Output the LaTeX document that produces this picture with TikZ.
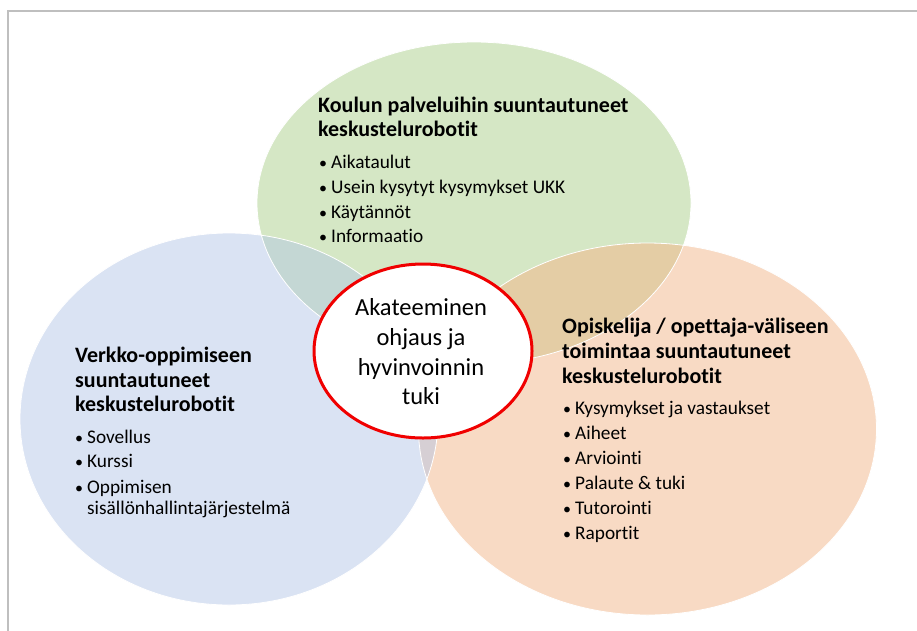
\documentclass[tikz,border=0pt]{standalone}
\usepackage{fontspec}
\usetikzlibrary{shapes.geometric}
\setmainfont{Carlito}[Ligatures=NoCommon]
\definecolor{cgreen}{HTML}{D5E7C5}
\definecolor{cblue}{HTML}{DAE3F3}
\definecolor{corange}{HTML}{F8DAC4}
\definecolor{cbg}{HTML}{C4D7D4}
\definecolor{cog}{HTML}{E4CDA5}
\definecolor{cbo}{HTML}{D6CFD4}
\definecolor{cred}{HTML}{F00000}
\definecolor{cframe}{HTML}{BFBFBF}
\begin{document}
\begin{tikzpicture}[x=1pt,y=-1pt,
  txt/.style={inner sep=0pt, anchor=base west},
  ttl/.style={txt, font=\fontsize{22}{26}\selectfont\bfseries},
  itm/.style={txt, font=\fontsize{19.3}{22}\selectfont},
  bul/.style={inner sep=0pt, anchor=base, font=\fontsize{16}{20}\selectfont},
  ctr/.style={inner sep=0pt, anchor=base, font=\fontsize{24.5}{28}\selectfont},
  venn/.style={draw=white, line width=0.8pt}
]
\path[use as bounding box] (0,0) rectangle (917,630);
\fill[white] (0,0) rectangle (917,630);
\begin{scope}
\clip (0,0) rectangle (917,630);
\draw[cframe, line width=1.5pt] (8,11) rectangle (940,660);
\end{scope}
% base fills
\fill[cgreen] (474,203) ellipse [x radius=217, y radius=161];
\fill[cblue] (229,419) ellipse [x radius=209, y radius=186];
\fill[corange] (647.5,429) ellipse [x radius=229, y radius=186];
% overlaps
\begin{scope}
\clip (474,203) ellipse [x radius=217, y radius=161];
\fill[cbg] (229,419) ellipse [x radius=209, y radius=186];
\fill[cog] (647.5,429) ellipse [x radius=229, y radius=186];
\end{scope}
\begin{scope}
\clip (229,419) ellipse [x radius=209, y radius=186];
\fill[cbo] (647.5,429) ellipse [x radius=229, y radius=186];
\end{scope}
\draw[venn] (474,203) ellipse [x radius=217, y radius=161];
\draw[venn] (229,419) ellipse [x radius=209, y radius=186];
\draw[venn] (647.5,429) ellipse [x radius=229, y radius=186];
% centre
\node[ellipse, draw=cred, fill=white, line width=3pt, inner sep=0pt,
  minimum width=218pt, minimum height=174pt] (c) at (423,351) {};
\node[ctr] (c1) at (421,315) {Akateeminen};
\node[ctr] (c2) at (421,345) {ohjaus ja};
\node[ctr] (c3) at (421,375) {hyvinvoinnin};
\node[ctr] (c4) at (421,404) {tuki};
% green block
\node[ttl] (g1) at (318,112) {Koulun palveluihin suuntautuneet};
\node[ttl] (g2) at (318,136) {keskustelurobotit};
\foreach \y/\t [count=\i] in {168/Aikataulut,193/Usein kysytyt kysymykset UKK,218/Käytännöt,242/Informaatio}{
  \node[bul] (gb\i) at (323,\y) {\textbullet};
  \node[itm] (gi\i) at (331,\y) {\t};
}
% blue block
\node[ttl] (b1) at (75,362) {Verkko-oppimiseen};
\node[ttl] (b2) at (75,387) {suuntautuneet};
\node[ttl] (b3) at (75,411) {keskustelurobotit};
\foreach \y/\t [count=\i] in {443/Sovellus,467/Kurssi,493/Oppimisen}{
  \node[bul] (bb\i) at (79,\y) {\textbullet};
  \node[itm] (bi\i) at (87,\y) {\t};
}
\node[itm] (bi4) at (87,514) {sisällönhallintajärjestelmä};
% orange block
\node[ttl] (o1) at (562,333) {Opiskelija / opettaja-väliseen};
\node[ttl] (o2) at (562,358) {toimintaa suuntautuneet};
\node[ttl] (o3) at (562,383) {keskustelurobotit};
\foreach \y/\t [count=\i] in {414/Kysymykset ja vastaukset,439/Aiheet,464/Arviointi,489/Palaute \& tuki,514/Tutorointi,539/Raportit}{
  \node[bul] (ob\i) at (567,\y) {\textbullet};
  \node[itm] (oi\i) at (575,\y) {\t};
}
\end{tikzpicture}
\end{document}
